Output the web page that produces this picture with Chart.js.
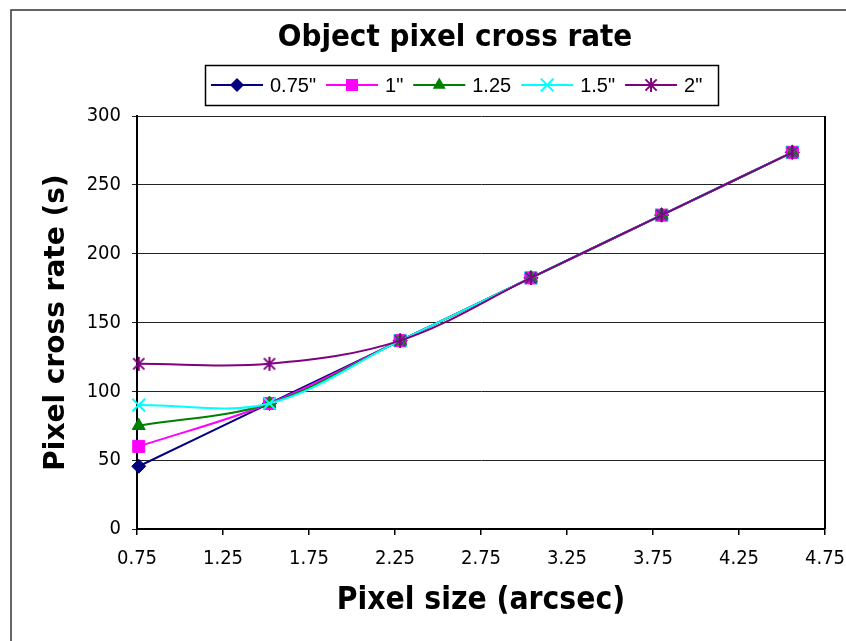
<!DOCTYPE html>
<html>
<head>
<meta charset="utf-8">
<script src="https://cdn.jsdelivr.net/npm/chart.js@4/dist/chart.umd.min.js"></script>
<style>
html,body{margin:0;padding:0;background:#fff;}
#wrap{width:846px;height:641px;position:relative;}
</style>
</head>
<body>
<div id="wrap"><canvas id="c" width="846" height="641"></canvas></div>
<script>
const pixelSizes = [0.76, 1.52, 2.28, 3.04, 3.80, 4.56];
const seriesLabels = ['0.75"', '1"', '1.25', '1.5"', '2"'];
const s075 = [45.6, 91.2, 136.8, 182.4, 228, 273.6];
const s100 = [60, 91.2, 136.8, 182.4, 228, 273.6];
const s125 = [75, 91.2, 136.8, 182.4, 228, 273.6];
const s150 = [90, 91.2, 136.8, 182.4, 228, 273.6];
const s200 = [120, 120, 136.8, 182.4, 228, 273.6];
const yTicks = [0, 50, 100, 150, 200, 250, 300];
const xTicks = [0.75, 1.25, 1.75, 2.25, 2.75, 3.25, 3.75, 4.25, 4.75];

const colors = ['#000080', '#FF00FF', '#008000', '#00FFFF', '#800080'];
const styles = ['rectRot', 'rect', 'triangle', 'crossRot', 'star'];
const radii = [7, 8.5, 7.5, 9, 7];
const allSeries = [s075, s100, s125, s150, s200];

function drawMarker(ctx, style, x, y, r, color) {
  ctx.save();
  ctx.fillStyle = color; ctx.strokeStyle = color; ctx.lineWidth = 2;
  ctx.beginPath();
  if (style === 'rectRot') {
    ctx.moveTo(x, y - r); ctx.lineTo(x + r, y); ctx.lineTo(x, y + r); ctx.lineTo(x - r, y); ctx.closePath(); ctx.fill();
  } else if (style === 'rect') {
    const s = r * 0.707; ctx.rect(x - s, y - s, 2 * s, 2 * s); ctx.fill();
  } else if (style === 'triangle') {
    ctx.moveTo(x, y - r); ctx.lineTo(x + r * 0.866, y + r * 0.5); ctx.lineTo(x - r * 0.866, y + r * 0.5); ctx.closePath(); ctx.fill();
  } else if (style === 'crossRot') {
    const s = r * 0.707; ctx.moveTo(x - s, y - s); ctx.lineTo(x + s, y + s); ctx.moveTo(x + s, y - s); ctx.lineTo(x - s, y + s); ctx.stroke();
  } else if (style === 'star') {
    const s = r * 0.8; ctx.moveTo(x - s, y - s); ctx.lineTo(x + s, y + s); ctx.moveTo(x + s, y - s); ctx.lineTo(x - s, y + s);
    ctx.moveTo(x, y - r); ctx.lineTo(x, y + r); ctx.stroke();
  }
  ctx.restore();
}

// asterisk marker (X plus vertical bar) as an image
const starImg = document.createElement('canvas');
starImg.width = 16; starImg.height = 16;
drawMarker(starImg.getContext('2d'), 'star', 8, 8, 7, colors[4]);

const datasets = allSeries.map((s, i) => ({
  label: seriesLabels[i],
  data: s.map((v, j) => ({x: pixelSizes[j], y: v})),
  borderColor: colors[i],
  backgroundColor: colors[i],
  pointBackgroundColor: colors[i],
  pointBorderColor: colors[i],
  pointStyle: styles[i] === 'star' ? starImg : styles[i],
  legendStyle: styles[i],
  pointRadius: radii[i],
  pointBorderWidth: styles[i] === 'crossRot' ? 2 : 1,
  borderWidth: 2,
  tension: 0.35,
  fill: false,
  clip: false,
  order: allSeries.length - i
}));

const decor = {
  id: 'decor',
  beforeDraw(chart) {
    const ctx = chart.ctx;
    ctx.save();
    ctx.fillStyle = '#fff'; ctx.fillRect(0, 0, chart.width, chart.height);
    ctx.strokeStyle = '#333'; ctx.lineWidth = 1.5;
    ctx.beginPath(); ctx.moveTo(11, 700); ctx.lineTo(11, 10); ctx.lineTo(900, 10); ctx.stroke();
    // title
    ctx.fillStyle = '#000'; ctx.font = "bold 31px 'DejaVu Sans Condensed', 'DejaVu Sans'"; ctx.textAlign = 'center'; ctx.textBaseline = 'middle';
    ctx.fillText('Object pixel cross rate', 455, 38);
    // legend box
    ctx.strokeStyle = '#000'; ctx.lineWidth = 1.5;
    ctx.strokeRect(205.5, 65.5, 513, 40);
    ctx.font = "20px 'Liberation Sans'"; ctx.textAlign = 'left';
    let x = 211;
    const yc = 85;
    chart.data.datasets.forEach((ds) => {
      ctx.strokeStyle = ds.borderColor; ctx.lineWidth = 2;
      ctx.beginPath(); ctx.moveTo(x, yc); ctx.lineTo(x + 52, yc); ctx.stroke();
      drawMarker(ctx, ds.legendStyle, x + 26, yc, ds.pointRadius, ds.borderColor);
      ctx.fillStyle = '#000';
      ctx.fillText(ds.label, x + 59, yc + 1);
      x += 59 + ctx.measureText(ds.label).width + 10;
    });
    ctx.restore();
  },
  afterDraw(chart) {
    const a = chart.chartArea, ctx = chart.ctx;
    ctx.save();
    ctx.strokeStyle = '#000'; ctx.lineWidth = 2;
    ctx.beginPath(); ctx.moveTo(a.right, a.top); ctx.lineTo(a.right, a.bottom); ctx.stroke();
    ctx.restore();
  }
};

const tickFont = {family: "'DejaVu Sans Condensed', 'DejaVu Sans'", size: 20};

new Chart(document.getElementById('c'), {
  type: 'line',
  data: {datasets},
  plugins: [decor],
  options: {
    responsive: false,
    animation: false,
    layout: {padding: {top: 116, left: 0, right: 21, bottom: 0}},
    plugins: {legend: {display: false}, title: {display: false}, tooltip: {enabled: false}},
    scales: {
      x: {
        type: 'linear', min: 0.75, max: 4.75,
        afterBuildTicks(scale) { scale.ticks = xTicks.map(v => ({value: v})); },
        afterFit(scale) { scale.height = 112; scale.paddingLeft = 0; scale.paddingRight = 0; },
        ticks: {font: tickFont, color: '#000', padding: 12, maxRotation: 0, autoSkip: false,
                callback: v => Number(v).toFixed(2)},
        grid: {drawOnChartArea: false, drawTicks: true, tickLength: 6, color: '#000', lineWidth: 1.5},
        border: {color: '#000', width: 2},
        title: {display: true, text: 'Pixel size (arcsec)', font: {family: "'DejaVu Sans Condensed', 'DejaVu Sans'", size: 31.5, weight: 'bold'}, color: '#000', padding: {top: 0, bottom: 21}}
      },
      y: {
        type: 'linear', min: 0, max: 300,
        afterBuildTicks(scale) { scale.ticks = yTicks.map(v => ({value: v})); },
        afterFit(scale) { scale.width = 137; scale.paddingTop = 0; scale.paddingBottom = 0; },
        ticks: {font: tickFont, color: '#000', padding: 11},
        grid: {drawOnChartArea: true, drawTicks: true, tickLength: 5, color: '#222', lineWidth: 1},
        border: {color: '#000', width: 2},
        title: {display: true, text: 'Pixel cross rate (s)', font: {family: 'DejaVu Sans', size: 28, weight: 'bold'}, color: '#000', padding: {top: 40, bottom: 0}}
      }
    }
  }
});
</script>
</body>
</html>
